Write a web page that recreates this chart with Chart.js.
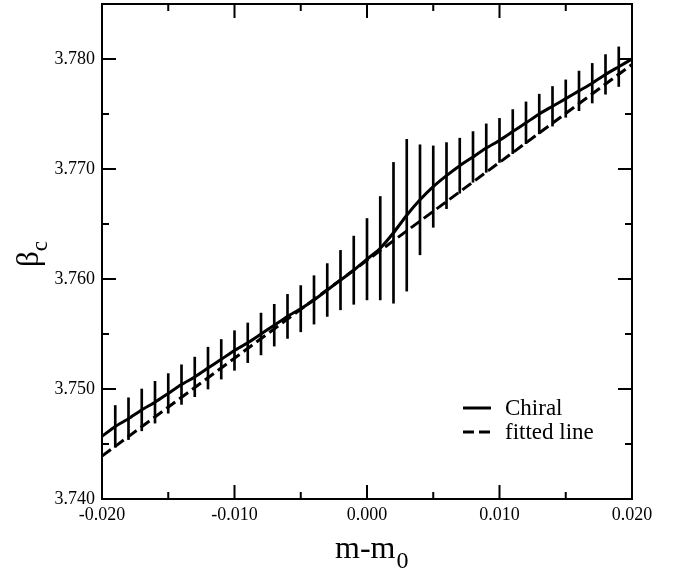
<!DOCTYPE html>
<html>
<head>
<meta charset="utf-8">
<script src="https://cdn.jsdelivr.net/npm/chart.js@4"></script>
<style>
  html, body { margin: 0; padding: 0; background: #fff; }
  #wrap { width: 685px; height: 574px; position: relative; }
</style>
</head>
<body>
<div id="wrap"><canvas id="myChart"></canvas></div>
<script>
// m - m0 positions of the Chiral curve
const mValues = [-0.020, -0.019, -0.018, -0.017, -0.016, -0.015, -0.014, -0.013, -0.012, -0.011,
                 -0.010, -0.009, -0.008, -0.007, -0.006, -0.005, -0.004, -0.003, -0.002, -0.001,
                  0.000,  0.001,  0.002,  0.003,  0.004,  0.005,  0.006,  0.007,  0.008,  0.009,
                  0.010,  0.011,  0.012,  0.013,  0.014,  0.015,  0.016,  0.017,  0.018,  0.019, 0.020];
const chiralValues = [3.7457, 3.7466, 3.7473, 3.7481, 3.7488, 3.7496, 3.7504, 3.7511, 3.7519, 3.7527,
                      3.7535, 3.7542, 3.7550, 3.7558, 3.7566, 3.7573, 3.7581, 3.7590, 3.7599, 3.7608,
                      3.7618, 3.7628, 3.7642, 3.7658, 3.7672, 3.7684, 3.7694, 3.7703, 3.7711, 3.7719,
                      3.7726, 3.7734, 3.7742, 3.7750, 3.7757, 3.7764, 3.7771, 3.7778, 3.7786, 3.7793, 3.7800];
// error bars (half length) at -0.019 ... 0.019
const errM = mValues.slice(1, -1);
const errHalf = [0.0019, 0.0019, 0.0019, 0.0019, 0.0018, 0.0018, 0.0018, 0.0019, 0.0018,
                 0.0018, 0.0018, 0.0019, 0.0019, 0.0020, 0.0021, 0.0022, 0.0024, 0.0027, 0.0031,
                 0.0037, 0.0047, 0.0064, 0.0069, 0.0050, 0.0037, 0.0030, 0.0025, 0.0023, 0.0022,
                 0.0020, 0.0020, 0.0019, 0.0018, 0.0018, 0.0017, 0.0018, 0.0018, 0.0018, 0.0018];
// fitted straight line end points
const fitM = [-0.020, 0.020];
const fitValues = [3.7439, 3.7795];

const xTicks = [-0.020, -0.010, 0.000, 0.010, 0.020];
const yTicks = [3.740, 3.750, 3.760, 3.770, 3.780];
const xMinor = [-0.015, -0.005, 0.005, 0.015];
const yMinor = [3.745, 3.755, 3.765, 3.775];

const serif = '"Liberation Serif", "Times New Roman", serif';

const framePlugin = {
    id: 'frame',
    afterDatasetsDraw(chart) {
        const { ctx, chartArea: a, scales: { x, y } } = chart;
        ctx.save();
        ctx.strokeStyle = '#000';
        ctx.lineWidth = 2;
        ctx.strokeRect(a.left, a.top, a.right - a.left, a.bottom - a.top);
        const tick = (vals, len) => {
            vals.forEach(v => {
                const px = x.getPixelForValue(v);
                ctx.beginPath();
                ctx.moveTo(px, a.bottom); ctx.lineTo(px, a.bottom - len);
                ctx.moveTo(px, a.top); ctx.lineTo(px, a.top + len);
                ctx.stroke();
            });
        };
        const tickY = (vals, len) => {
            vals.forEach(v => {
                const py = y.getPixelForValue(v);
                ctx.beginPath();
                ctx.moveTo(a.left, py); ctx.lineTo(a.left + len, py);
                ctx.moveTo(a.right, py); ctx.lineTo(a.right - len, py);
                ctx.stroke();
            });
        };
        tick(xTicks, 14); tick(xMinor, 7);
        tickY(yTicks, 14); tickY(yMinor, 7);
        ctx.restore();
    },
    afterDraw(chart) {
        const { ctx } = chart;
        ctx.save();
        ctx.fillStyle = '#000';
        // x title m-m0
        ctx.font = '32px ' + serif;
        ctx.textBaseline = 'alphabetic';
        const main = 'm-m';
        const w = ctx.measureText(main).width;
        const x0 = 335;
        ctx.fillText(main, x0, 558);
        ctx.font = '24px ' + serif;
        ctx.fillText('0', x0 + w + 1, 568);
        // y title beta_c
        ctx.translate(38, 258);
        ctx.rotate(-Math.PI / 2);
        ctx.font = '31px ' + serif;
        ctx.fillText('\u03B2', -9, 0);
        const bw = ctx.measureText('\u03B2').width;
        ctx.font = '23px ' + serif;
        ctx.fillText('c', -9 + bw, 9);
        ctx.restore();

        // legend
        ctx.save();
        const ds = chart.data.datasets;
        const rows = [ds[1], ds[2]];
        rows.forEach((d, i) => {
            const yy = 408 + i * 24;
            ctx.strokeStyle = d.borderColor;
            ctx.lineWidth = d.borderWidth;
            ctx.setLineDash(d.borderDash || []);
            ctx.beginPath();
            ctx.moveTo(463, yy); ctx.lineTo(491, yy);
            ctx.stroke();
            ctx.setLineDash([]);
            ctx.fillStyle = '#000';
            ctx.font = '23px ' + serif;
            ctx.textBaseline = 'middle';
            ctx.fillText(d.label, 505, yy + 1);
        });
        ctx.restore();
    }
};

const ctx = document.getElementById('myChart');

new Chart(ctx, {
    type: 'line',
    data: {
        datasets: [
            {
                type: 'bar',
                label: 'error',
                data: errM.map((m, i) => ({ x: m, y: [chiralValues[i + 1] - errHalf[i], chiralValues[i + 1] + errHalf[i]] })),
                backgroundColor: '#000',
                borderWidth: 0,
                barThickness: 2,
                order: 3
            },
            {
                label: 'Chiral',
                data: mValues.map((m, i) => ({ x: m, y: chiralValues[i] })),
                borderColor: '#000',
                borderWidth: 3,
                pointRadius: 0,
                tension: 0.2,
                fill: false,
                order: 1
            },
            {
                label: 'fitted line',
                data: fitM.map((m, i) => ({ x: m, y: fitValues[i] })),
                borderColor: '#000',
                borderWidth: 3,
                borderDash: [11, 5],
                pointRadius: 0,
                fill: false,
                order: 2
            }
        ]
    },
    options: {
        responsive: true,
        maintainAspectRatio: false,
        animation: false,
        layout: { padding: { left: 0, top: 4, right: 53, bottom: 0 } },
        plugins: {
            legend: { display: false },
            tooltip: { enabled: false }
        },
        scales: {
            x: {
                type: 'linear',
                min: -0.020,
                max: 0.020,
                offset: false,
                grid: { display: false, drawTicks: false, offset: false },
                border: { display: false },
                afterBuildTicks: s => { s.ticks = xTicks.map(v => ({ value: v })); },
                afterFit: s => { s.height = 75; s.paddingLeft = 0; s.paddingRight = 0; },
                ticks: {
                    color: '#000',
                    padding: 5,
                    maxRotation: 0,
                    font: { family: serif, size: 18 },
                    callback: v => Number(v).toFixed(3)
                }
            },
            y: {
                type: 'linear',
                min: 3.740,
                max: 3.785,
                grid: { display: false, drawTicks: false },
                border: { display: false },
                afterBuildTicks: s => { s.ticks = yTicks.map(v => ({ value: v })); },
                afterFit: s => { s.width = 102; s.paddingTop = 0; s.paddingBottom = 0; },
                ticks: {
                    color: '#000',
                    padding: 7,
                    font: { family: serif, size: 18 },
                    callback: v => Number(v).toFixed(3)
                }
            }
        }
    },
    plugins: [framePlugin]
});
</script>
</body>
</html>
